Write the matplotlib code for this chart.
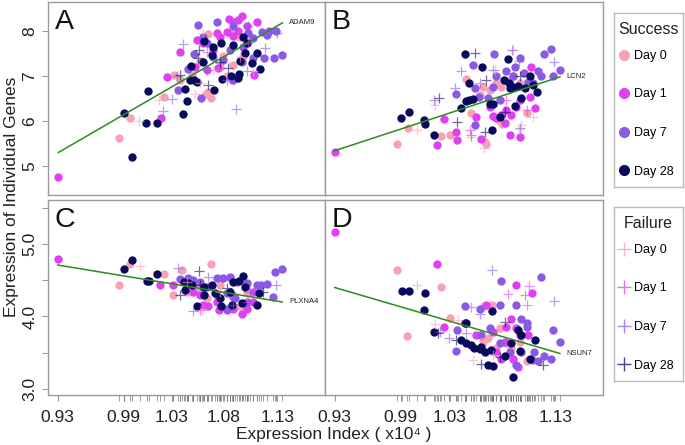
import numpy as np
import matplotlib
matplotlib.use("Agg")
import matplotlib.pyplot as plt
from matplotlib.lines import Line2D

plt.rcParams['font.family'] = ['Liberation Sans', 'DejaVu Sans']

# ---- data ----
days = ["Day 0", "Day 1", "Day 7", "Day 28"]
day_colors = ["#F9A1B4", "#E03FF2", "#8A5AE6", "#0A0A5C"]
genes = ["ADAM9", "LCN2", "PLXNA4", "NSUN7"]
panel_letters = ["A", "B", "C", "D"]
fit_start = [5.30, 5.34, 4.71, 4.40]   # fitted value at lowest index
fit_end = [8.18, 6.98, 4.20, 3.49]     # fitted value at highest index
xtick_pos = [0.93, 0.99, 1.034, 1.081, 1.13]
xtick_labels = ["0.93", "0.99", "1.03", "1.08", "1.13"]

# panel A - ADAM9
A_s0 = [(0.9859, 5.63), (0.9959, 6.06), (1.0268, 6.53), (1.0356, 7.03), (1.0414, 6.91), (1.0648, 6.60),
        (1.0693, 6.52), (1.0672, 6.65), (1.0666, 7.93), (1.0803, 7.44), (1.0888, 6.92), (1.0900, 7.24),
        (1.0870, 7.95), (1.0960, 7.87), (1.0778, 7.21), (1.0596, 7.32), (1.0991, 7.43), (1.0840, 6.99),
        (1.0520, 7.02)]
A_s1 = [(0.9306, 4.75), (1.0238, 6.06), (1.0293, 6.98), (1.0417, 7.53), (1.0763, 7.17), (1.0857, 8.26),
        (1.0942, 8.24), (1.0982, 8.34), (1.0900, 8.21), (1.1112, 8.20), (1.1027, 8.10), (1.1088, 7.02),
        (1.0748, 7.95), (1.0839, 7.98), (1.0900, 7.89), (1.0627, 7.73), (1.0718, 7.58), (1.0657, 7.13),
        (1.0551, 7.21), (1.0778, 7.87), (1.0945, 7.99), (1.0566, 7.80)]
A_s7 = [(1.0399, 6.69), (1.0484, 7.15), (1.0602, 6.52), (1.0575, 8.13), (1.0748, 8.21), (1.0900, 8.10),
        (1.1161, 7.98), (1.1228, 8.00), (1.1285, 8.00), (1.1203, 7.91), (1.1346, 7.46), (1.1267, 7.40),
        (1.1182, 7.41), (1.1082, 7.39), (1.0545, 7.48), (1.1036, 7.95), (1.1082, 7.84), (1.0991, 7.65),
        (1.0870, 7.58), (1.0809, 7.36), (1.0718, 7.43), (1.0657, 7.73), (1.0627, 7.87), (1.0900, 6.91),
        (1.0976, 7.32)]
A_s28 = [(0.9907, 6.17), (0.9980, 5.20), (1.0104, 5.95), (1.0202, 5.95), (1.0126, 6.67), (1.0445, 6.16),
         (1.0481, 6.44), (1.0463, 6.70), (1.0505, 6.90), (1.0545, 6.92), (1.0572, 6.86), (1.0514, 7.22),
         (1.0727, 6.69), (1.0797, 6.93), (1.0876, 6.99), (1.0942, 6.95), (1.0948, 7.04), (1.0636, 7.77),
         (1.1118, 7.50), (1.1143, 7.15), (1.1073, 7.28), (1.1009, 7.50), (1.1021, 7.73), (1.0991, 7.87),
         (1.0900, 7.69), (1.0788, 7.74), (1.0709, 7.46), (1.0627, 7.32), (1.0961, 7.33), (1.0718, 7.65)]
A_f0 = [(1.0044, 5.99), (1.0223, 6.47), (1.0551, 6.61), (1.0596, 6.84), (1.0718, 7.13), (1.0900, 7.21),
        (1.1082, 7.10), (1.0627, 7.95), (1.0960, 7.43)]
A_f1 = [(1.0778, 7.28), (1.0657, 7.54), (1.1036, 7.73)]
A_f7 = [(1.0256, 6.22), (1.0344, 6.49), (1.0384, 7.01), (1.0444, 7.70), (1.0921, 6.26), (1.1188, 7.63),
        (1.0845, 6.90), (1.1021, 7.10), (1.1295, 7.96), (1.0657, 7.13), (1.1036, 8.10)]
A_f28 = [(1.0587, 7.58), (1.0581, 7.39), (1.0778, 7.30), (1.0851, 7.17), (1.0672, 6.80), (1.0414, 7.02)]

# panel B - LCN2
B_s0 = [(0.9862, 5.50), (0.9962, 5.84), (1.0265, 5.67), (1.0350, 5.68), (1.0487, 6.93), (1.0666, 5.54),
        (1.1049, 6.17), (1.0645, 6.76), (1.0712, 6.69), (1.0766, 6.84), (1.0812, 6.75), (1.0615, 6.58),
        (1.0797, 5.99), (1.0821, 5.93), (1.0539, 6.17), (1.0888, 6.91), (1.0979, 6.84), (1.0675, 5.50),
        (1.0918, 6.99)]
B_s1 = [(0.9300, 5.32), (1.0232, 5.47), (1.0296, 6.04), (1.0411, 5.58), (1.0624, 5.61), (1.0894, 5.69),
        (1.0979, 5.65), (1.1115, 6.28), (1.1085, 7.21), (1.0736, 6.11), (1.0766, 6.06), (1.0812, 6.13),
        (1.0857, 6.24), (1.0903, 6.13), (1.0948, 6.32), (1.0842, 5.95), (1.1070, 6.54), (1.0979, 6.47),
        (1.0706, 6.32), (1.0584, 6.10), (1.0402, 5.76)]
B_s7 = [(1.0569, 5.91), (1.0569, 6.73), (1.0608, 6.54), (1.0736, 6.76), (1.0742, 7.48), (1.0766, 6.99),
        (1.0857, 7.10), (1.0918, 6.99), (1.1015, 7.06), (1.1055, 6.87), (1.0933, 7.21), (1.1261, 7.61),
        (1.1200, 7.48), (1.1343, 7.13), (1.1282, 6.99), (1.1146, 7.10), (1.1176, 7.00), (1.0553, 7.24),
        (1.0797, 6.47), (1.0690, 6.50), (1.0402, 6.61), (1.0979, 7.39), (1.1100, 6.84)]
B_s28 = [(0.9901, 6.07), (0.9977, 6.19), (1.0114, 6.02), (1.0120, 5.93), (1.0199, 5.69), (1.0448, 6.28),
         (1.0487, 6.45), (1.0517, 6.47), (1.0554, 6.48), (1.0517, 6.85), (1.0478, 7.48), (1.0873, 7.37),
         (1.0636, 7.19), (1.0730, 5.79), (1.0797, 6.10), (1.0706, 6.37), (1.0736, 6.37), (1.0888, 6.73),
         (1.0918, 6.75), (1.0964, 6.78), (1.1024, 6.73), (1.0994, 6.52), (1.0939, 6.33), (1.0836, 6.91),
         (1.0882, 6.85), (1.1100, 6.80), (1.1137, 6.65), (1.1070, 7.00)]
B_f0 = [(1.0044, 5.79), (1.0211, 6.36), (1.0991, 5.91), (1.0973, 5.82), (1.0651, 5.39), (1.0539, 5.65),
        (1.0751, 7.13), (1.0918, 7.58), (1.1100, 6.10)]
B_f1 = [(1.1040, 6.24), (1.0857, 6.47), (1.0523, 5.80)]
B_f7 = [(1.0448, 7.11), (1.0387, 6.73), (1.0912, 7.58), (1.0973, 7.33), (1.1291, 7.32), (1.0736, 7.13),
        (1.0539, 5.69), (1.0979, 5.84), (1.0615, 6.84), (1.0205, 6.47)]
B_f28 = [(1.0250, 6.50), (1.0408, 5.97), (1.0575, 7.50), (1.0675, 6.91), (1.0842, 6.21), (1.0979, 6.99),
         (1.0660, 5.76)]

# panel C - PLXNA4
C_s0 = [(0.9859, 4.43), (0.9959, 4.72), (1.0268, 4.59), (1.0353, 4.30), (1.0429, 4.64), (1.0696, 4.72),
        (1.0961, 4.14), (1.0900, 4.30), (1.0596, 4.39), (1.0778, 4.43), (1.1021, 4.34), (1.0869, 4.53),
        (1.0657, 4.25), (1.0475, 4.34)]
C_s1 = [(0.9300, 4.79), (1.0232, 4.43), (1.0627, 4.16), (1.0672, 4.14), (1.0772, 4.09), (1.0976, 4.04),
        (1.0839, 4.09), (1.0900, 4.11), (1.1021, 4.11), (1.1082, 4.20), (1.0748, 4.20), (1.0596, 4.30),
        (1.0536, 4.34), (1.0900, 4.27), (1.1082, 4.34), (1.0353, 4.43)]
C_s7 = [(1.0414, 4.52), (1.0484, 4.53), (1.0536, 4.51), (1.0748, 4.53), (1.0809, 4.53), (1.0869, 4.54),
        (1.0930, 4.48), (1.1021, 4.46), (1.0839, 4.32), (1.0748, 4.30), (1.0915, 4.25), (1.1021, 4.20),
        (1.1279, 4.62), (1.1346, 4.66), (1.1112, 4.44), (1.1149, 4.44), (1.1203, 4.45), (1.1264, 4.27),
        (1.0596, 4.48), (1.0657, 4.41), (1.0839, 4.11)]
C_s28 = [(0.9907, 4.66), (0.9980, 4.78), (1.0111, 4.49), (1.0135, 4.49), (1.0202, 4.59), (1.0451, 4.47),
         (1.0490, 4.46), (1.0520, 4.43), (1.0460, 4.37), (1.0566, 4.15), (1.0633, 4.30), (1.0633, 4.41),
         (1.0703, 4.44), (1.0733, 4.33), (1.0778, 4.25), (1.0784, 4.14), (1.0991, 4.56), (1.0900, 4.48),
         (1.0955, 4.49), (1.1006, 4.41), (1.0885, 4.16), (1.0976, 4.18), (1.1112, 4.16), (1.1137, 4.33),
         (1.0869, 4.34)]
C_f0 = [(1.0050, 4.69), (1.0611, 4.09), (1.0778, 4.34), (1.1021, 4.30), (1.0475, 4.48)]
C_f1 = [(1.0596, 4.09), (1.1036, 4.20)]
C_f7 = [(1.0393, 4.67), (1.0672, 4.54), (1.1288, 4.43), (1.0900, 4.16), (1.1052, 4.34), (1.0536, 4.07)]
C_f28 = [(1.0414, 4.30), (1.0587, 4.63), (1.0839, 4.39), (1.1173, 4.34), (1.0596, 4.43)]

# panel D - NSUN7
D_s0 = [(0.9862, 4.64), (0.9959, 3.73), (1.0265, 4.41), (1.0350, 3.98), (1.0651, 4.14), (1.0730, 4.16),
        (1.0690, 3.70), (1.0615, 3.74), (1.0645, 3.65), (1.0766, 3.56), (1.0903, 3.56), (1.1040, 3.38),
        (1.0857, 3.63), (1.0797, 3.84), (1.0979, 3.65)]
D_s1 = [(0.9300, 5.16), (1.0232, 4.73), (1.0296, 3.85), (1.0675, 4.16), (1.0942, 4.44), (1.1091, 4.32),
        (1.0903, 3.97), (1.0948, 3.84), (1.0918, 3.42), (1.0964, 3.31), (1.0736, 3.79), (1.0766, 3.51),
        (1.0842, 3.65), (1.0857, 3.86), (1.0979, 3.74), (1.1055, 3.75), (1.0584, 3.74), (1.0812, 3.42)]
D_s7 = [(1.0411, 3.81), (1.0396, 3.52), (1.0484, 4.14), (1.0806, 4.49), (1.1176, 4.55), (1.0797, 4.16),
        (1.0942, 4.16), (1.0994, 3.97), (1.1040, 3.91), (1.1040, 3.86), (1.1282, 3.82), (1.1343, 3.65),
        (1.1261, 3.42), (1.1197, 3.46), (1.1146, 3.38), (1.1088, 3.40), (1.0630, 3.74), (1.0706, 3.84),
        (1.0797, 3.63), (1.0888, 3.51), (1.0994, 3.51), (1.1109, 3.51), (1.0948, 3.33), (1.0614, 4.11)]
D_s28 = [(0.9907, 4.35), (0.9977, 4.35), (1.0123, 4.32), (1.0108, 4.09), (1.0199, 3.78), (1.0493, 3.91),
         (1.0727, 4.08), (1.0448, 3.67), (1.0493, 3.63), (1.0539, 3.61), (1.0560, 3.56), (1.0630, 3.58),
         (1.1115, 3.67), (1.0918, 3.17), (1.0690, 3.33), (1.0736, 3.32), (1.0964, 3.81), (1.0994, 3.74),
         (1.0903, 3.64), (1.0979, 3.52), (1.1076, 3.42), (1.0615, 3.55), (1.0660, 3.51), (1.0721, 3.54),
         (1.0842, 3.45), (1.0484, 3.91)]
D_f0 = [(1.0047, 4.44), (1.0214, 3.89), (1.0417, 3.95), (1.0554, 3.40), (1.0736, 3.47), (1.0660, 3.70)]
D_f1 = [(1.0873, 4.31), (1.1040, 4.16), (1.1064, 4.42), (1.0539, 4.13)]
D_f7 = [(1.0727, 4.64), (1.1291, 4.21), (1.0341, 3.71), (1.0256, 3.78), (1.0614, 4.03), (1.1024, 4.30),
        (1.0493, 3.77)]
D_f28 = [(1.0396, 3.67), (1.0630, 3.35), (1.0842, 3.93), (1.0797, 3.44), (1.1191, 3.33), (1.0235, 3.77)]

panels = [
    ([A_s0, A_s1, A_s7, A_s28], [A_f0, A_f1, A_f7, A_f28]),
    ([B_s0, B_s1, B_s7, B_s28], [B_f0, B_f1, B_f7, B_f28]),
    ([C_s0, C_s1, C_s7, C_s28], [C_f0, C_f1, C_f7, C_f28]),
    ([D_s0, D_s1, D_s7, D_s28], [D_f0, D_f1, D_f7, D_f28]),
]

# ---- figure ----
W, H = 685, 445
fig = plt.figure(figsize=(W / 100, H / 100), dpi=100)

def rect(x0, y0, x1, y1):
    return [x0 / W, 1 - y1 / H, (x1 - x0) / W, (y1 - y0) / H]

rects = [rect(48, 2, 325, 195), rect(325, 2, 603, 195),
         rect(48, 200, 325, 395), rect(325, 200, 603, 395)]
frame_col = "#9a9a9a"
text_col = "#222222"

for i, (succ, fail) in enumerate(panels):
    ax = fig.add_axes(rects[i])
    for sp in ax.spines.values():
        sp.set_color(frame_col)
        sp.set_linewidth(1.0)
    ax.set_xlim(0.9212, 1.1734)
    top = i < 2
    if top:
        ax.set_ylim(4.356, 8.644)
    else:
        ax.set_ylim(2.917, 5.607)

    for k in range(4):
        pts = np.array(succ[k])
        ax.scatter(pts[:, 0], pts[:, 1], s=36, color=day_colors[k], linewidths=0, zorder=3)
    for k in range(4):
        pts = np.array(fail[k])
        ax.scatter(pts[:, 0], pts[:, 1], s=50, marker='+', color=day_colors[k],
                   linewidths=0.9, alpha=0.6, zorder=4)

    allx = np.concatenate([np.array(g)[:, 0] for g in succ + fail])
    xs = np.array([allx.min(), allx.max()])
    ax.plot(xs, [fit_start[i], fit_end[i]], color="#2E8B22", lw=1.1, zorder=5)
    ax.annotate(genes[i], (xs[1], fit_end[i]), xytext=(5, 0), textcoords='offset points',
                fontsize=5.5, va='center', ha='left', color=text_col, zorder=6)
    ax.text(0.025, 0.86, panel_letters[i], transform=ax.transAxes, fontsize=20.5,
            color="#111111", va='baseline', ha='left')

    ax.tick_params(colors=frame_col, labelcolor=text_col, labelsize=12.5, length=4.3, width=0.8)
    if top:
        ax.set_xticks([])
    else:
        ax.set_xticks(xtick_pos)
        ax.set_xticklabels(xtick_labels)
        ax.set_xticks(allx, minor=True)
        ax.tick_params(axis='x', which='minor', length=4.3, width=0.5, color="#777777")
        ax.tick_params(axis='x', pad=6.5)
    if i in (1, 3):
        ax.set_yticks([])
    elif top:
        ax.set_yticks([5, 6, 7, 8])
        ax.set_yticklabels(["5", "6", "7", "8"], rotation=90, va='center')
    else:
        ax.set_yticks([3.0, 3.5, 4.0, 4.5, 5.0, 5.5])
        ax.set_yticklabels(["3.0", "", "4.0", "", "5.0", ""], rotation=90, va='center')

fig.text(12 / W, 1 - 197 / H, "Expression of Individual Genes", rotation=90,
         ha='center', va='center', fontsize=12.5, color=text_col)
fig.text(334 / W, 1 - 435 / H, "Expression Index ( x10\u2074 )", ha='center', va='center',
         fontsize=12.5, color=text_col)

# legends: framed box, title as text, entries via legend
succ_handles = [Line2D([], [], ls='none', marker='o', ms=8, mfc=c, mec='none') for c in day_colors]
fail_handles = [Line2D([], [], ls='none', marker='+', ms=10, mew=1.0, color=c, alpha=0.75) for c in day_colors]
for handles, title, y0, y1 in [(succ_handles, "Success", 13, 187), (fail_handles, "Failure", 207, 381)]:
    lax = fig.add_axes(rect(614, y0, 683, y1))
    lax.set_xticks([])
    lax.set_yticks([])
    for sp in lax.spines.values():
        sp.set_color("#bbbbbb")
        sp.set_linewidth(1.0)
    lax.text(0.5, 1 - 16 / (y1 - y0), title, ha='center', va='center', fontsize=11.5,
             color=text_col, transform=lax.transAxes)
    lax.legend(handles, days, loc='upper left', bbox_to_anchor=(0.07, 1 - 37 / (y1 - y0)),
               fontsize=9, labelspacing=2.12, handlelength=0.9, handletextpad=0.3,
               borderpad=0, borderaxespad=0, frameon=False)

fig.savefig("out.png", dpi=100)
